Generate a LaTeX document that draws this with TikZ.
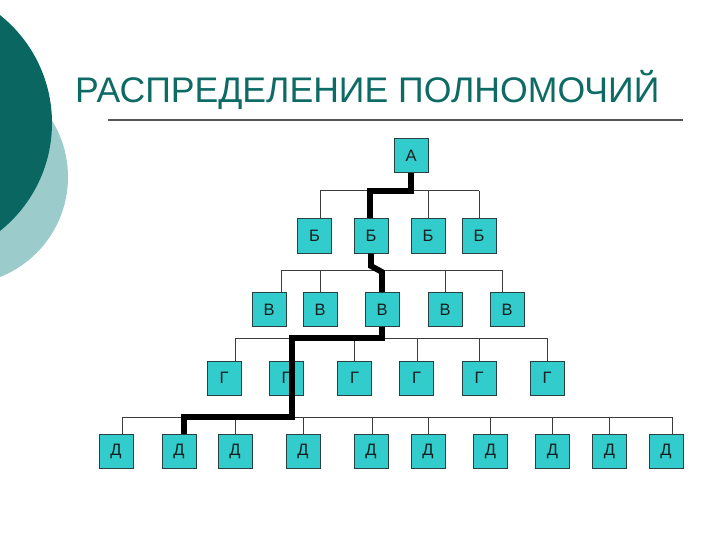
\documentclass[tikz,border=0pt]{standalone}
\usepackage{fontspec}
\setmainfont{Liberation Sans}
\definecolor{darkteal}{RGB}{10,102,96}
\definecolor{lightteal}{RGB}{155,203,203}
\definecolor{titlecol}{RGB}{14,106,101}
\definecolor{rulecol}{RGB}{85,85,85}
\definecolor{boxfill}{RGB}{51,204,204}
\definecolor{boxedge}{RGB}{40,66,66}
\definecolor{boxtext}{RGB}{20,30,30}
\definecolor{linkcol}{RGB}{60,60,60}
\begin{document}
\begin{tikzpicture}[x=1pt,y=-1pt,
  box/.style={draw=boxedge, fill=boxfill, line width=1pt, minimum width=34pt, minimum height=34pt, inner sep=0pt, font=\fontsize{16.5}{16.5}\selectfont, text=boxtext},
  link/.style={draw=linkcol, line width=1pt},
  chainline/.style={draw=black, line width=5.8pt, line join=miter}]
\useasboundingbox (0,0) rectangle (720,540);
% decorative circles
\begin{scope}
  \clip (0,0) rectangle (720,540);
  \fill[lightteal] (-39.5,177) circle[radius=107.5pt];
  \fill[darkteal] (-86,123) circle[radius=138pt];
\end{scope}
% title
\node[anchor=base west, inner sep=0pt, font=\fontsize{35.6}{35.6}\selectfont, text=titlecol] (title) at (75,103) {РАСПРЕДЕЛЕНИЕ ПОЛНОМОЧИЙ};
\coordinate (ruleL) at (108,120);
\coordinate (ruleR) at (683,120);
\draw[rulecol, line width=1.3pt] (ruleL) -- (ruleR);
% boxes
\node[box] (a) at (411,156) {А};
\foreach \n/\x in {1/314.5,2/371,3/428,4/479}
  \node[box] (b\n) at (\x,236) {Б};
\foreach \n/\x in {1/269,2/320,3/382,4/445,5/507}
  \node[box] (v\n) at (\x,309.5) {В};
\foreach \n/\x in {1/224,2/286,3/354.5,4/416.5,5/479,6/547}
  \node[box] (g\n) at (\x,378) {Г};
\foreach \n/\x in {1/116,2/179,3/235,4/303,5/371,6/428,7/490.5,8/552.5,9/609.5,10/666}
  \node[box] (d\n) at (\x,451) {Д};
% bus junctions
\foreach \n/\x in {1/320,2/370,3/428,4/479}
  \coordinate (bj\n) at (\x,191);
\foreach \n/\x in {1/281,2/320,3/383,4/445,5/502}
  \coordinate (vj\n) at (\x,270);
\foreach \n/\x in {1/235,2/292,3/354,4/417,5/479,6/547}
  \coordinate (gj\n) at (\x,338);
\foreach \n/\x in {1/122,2/184,3/235,4/303,5/372,6/428,7/490,8/552,9/609,10/672}
  \coordinate (dj\n) at (\x,417);
% thin connectors
\draw[link] (bj1) -- (bj4);
\foreach \n in {1,...,4} \draw[link] (bj\n) -- (bj\n |- b\n.north);
\draw[link] (vj1) -- (vj5);
\foreach \n in {1,...,5} \draw[link] (vj\n) -- (vj\n |- v\n.north);
\draw[link] (gj1) -- (gj6);
\foreach \n in {1,...,6} \draw[link] (gj\n) -- (gj\n |- g\n.north);
\draw[link] (dj1) -- (dj10);
\foreach \n in {1,...,10} \draw[link] (dj\n) -- (dj\n |- d\n.north);
% thick chain of authority
\coordinate (k1) at (371,266);
\coordinate (k2) at (382,272);
\draw[chainline] (a.south) -- (a.south |- bj1) -- (bj2) -- (bj2 |- b2.north);
\draw[chainline] (b2.south) -- (k1) -- (k2) -- (k2 |- v3.north);
\draw[chainline] (v3.south) -- (v3.south |- gj2) -- (gj2) -- (gj2 |- dj2) -- (dj2) -- (dj2 |- d2.north);
\end{tikzpicture}
\end{document}
